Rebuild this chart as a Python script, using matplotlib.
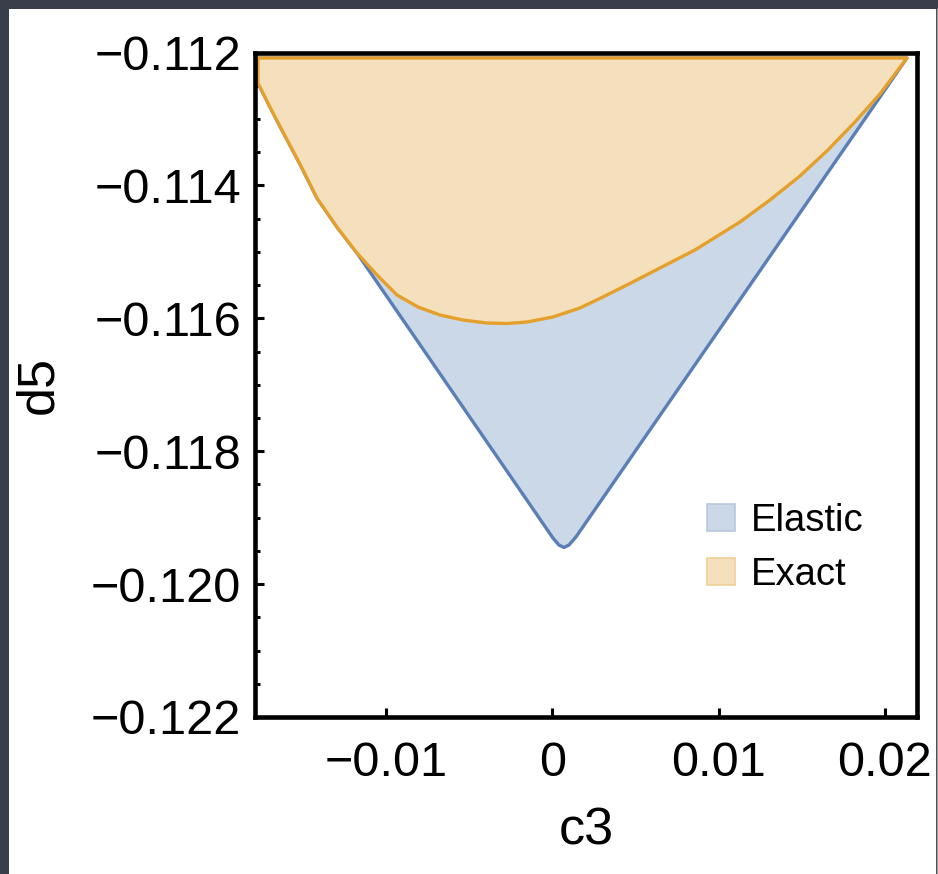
import matplotlib
matplotlib.use("Agg")
import matplotlib.pyplot as plt
from matplotlib.patches import Polygon, Patch, Rectangle
from matplotlib.lines import Line2D
import numpy as np

plt.rcParams['font.family'] = ['Liberation Sans', 'DejaVu Sans']

# Region limits (edges of the scanned parameter box)
region_left = -0.017694
region_top = -0.112083

# Lower boundary of the "Exact" allowed region (c3, d5), left to right
exact_c3 = [-0.017694, -0.016972, -0.016191, -0.015169, -0.014147, -0.012944,
            -0.011742, -0.010539, -0.009337, -0.008074, -0.006752, -0.005369,
            -0.003926, -0.002723, -0.001521, 0.000042, 0.001665, 0.003048,
            0.004491, 0.006475, 0.008579, 0.011285, 0.013088, 0.014892,
            0.016575, 0.018199, 0.019702, 0.021325]
exact_d5 = [-0.112459, -0.112820, -0.113196, -0.113678, -0.114190, -0.114626,
            -0.115017, -0.115348, -0.115649, -0.115830, -0.115950, -0.116026,
            -0.116071, -0.116078, -0.116056, -0.115980, -0.115845, -0.115679,
            -0.115499, -0.115243, -0.114972, -0.114551, -0.114220, -0.113859,
            -0.113467, -0.113046, -0.112625, -0.112083]

# Lower boundary of the "Elastic" allowed region (c3, d5), left to right
elastic_c3 = [-0.017694, -0.016972, -0.016191, -0.015169, -0.014147, -0.012944,
              -0.011742, 0.000042, 0.000403, 0.000703, 0.001004, 0.001425,
              0.021325]
elastic_d5 = [-0.112459, -0.112820, -0.113196, -0.113678, -0.114190, -0.114626,
              -0.115017, -0.119306, -0.119412, -0.119449, -0.119412, -0.119291,
              -0.112083]

x_ticks = [-0.01, 0.0, 0.01, 0.02]
x_ticklabels = ["\u22120.01", "0", "0.01", "0.02"]
y_ticks = [-0.122, -0.120, -0.118, -0.116, -0.114, -0.112]
y_ticklabels = ["\u22120.122", "\u22120.120", "\u22120.118",
                "\u22120.116", "\u22120.114", "\u22120.112"]
series_names = ["Elastic", "Exact"]

blue_line = "#5a7fb7"
blue_fill = "#cbd8e7"
orange_line = "#e4a02a"
orange_fill = "#f5e0bd"

W, H = 938, 874
fig = plt.figure(figsize=(W / 100, H / 100), dpi=100)
fig.patch.set_facecolor("#3a3e4a")
fig.patches.append(Rectangle((9 / W, 0), (936 - 9) / W, (H - 9) / H,
                             transform=fig.transFigure, facecolor="white",
                             edgecolor="none", zorder=-2))
fig.lines.append(Line2D([936.5 / W, 936.5 / W], [0, (H - 9) / H],
                        transform=fig.transFigure, color="#9a9a9a", lw=1.0,
                        zorder=-1))

ax = fig.add_axes([255 / W, 157 / H, (917 - 255) / W, (717 - 52.5) / H])
ax.set_facecolor("white")


def region(c3, d5):
    pts = [(region_left, region_top)] + list(zip(c3, d5)) + [(c3[-1], region_top)]
    return pts


ax.add_patch(Polygon(region(elastic_c3, elastic_d5), closed=True,
                     facecolor=blue_fill, edgecolor=blue_line, lw=2.4,
                     joinstyle="round", zorder=2))
ax.add_patch(Polygon(region(exact_c3, exact_d5), closed=True,
                     facecolor=orange_fill, edgecolor=orange_line, lw=2.4,
                     joinstyle="round", zorder=3))

ax.set_xlim(-0.01787, 0.02193)
ax.set_ylim(-0.122, -0.112)

ax.set_xticks(x_ticks)
ax.set_xticklabels(x_ticklabels)
ax.set_yticks(y_ticks)
ax.set_yticklabels(y_ticklabels)
ax.set_yticks(np.arange(-0.1215, -0.1120, 0.0005), minor=True)

ax.tick_params(axis="both", which="both", direction="in", top=False,
               right=False, color="black")
ax.tick_params(axis="both", which="major", length=6.5, width=2.2,
               labelsize=35)
ax.tick_params(axis="y", which="minor", length=3.8, width=2.2)
ax.tick_params(axis="x", which="minor", length=0)
ax.tick_params(axis="x", which="major", pad=17)
ax.tick_params(axis="y", which="major", pad=10)

for sp in ax.spines.values():
    sp.set_linewidth(3.3)
    sp.set_color("black")
    sp.set_zorder(5)

ax.set_xlabel("c3", fontsize=37.5, labelpad=15)
ax.set_ylabel("d5", fontsize=37.5, labelpad=20)

handles = [Patch(facecolor=blue_fill, edgecolor="#b8c8de", lw=1.2),
           Patch(facecolor=orange_fill, edgecolor="#efd09a", lw=1.2)]
ax.legend(handles, series_names, loc="upper left",
          bbox_to_anchor=(0.683, 0.322), frameon=False, fontsize=27.5,
          handlelength=0.72, handleheight=0.7, handletextpad=0.42,
          labelspacing=0.46, borderpad=0, borderaxespad=0)

fig.savefig("out.png", dpi=100, facecolor=fig.get_facecolor())
